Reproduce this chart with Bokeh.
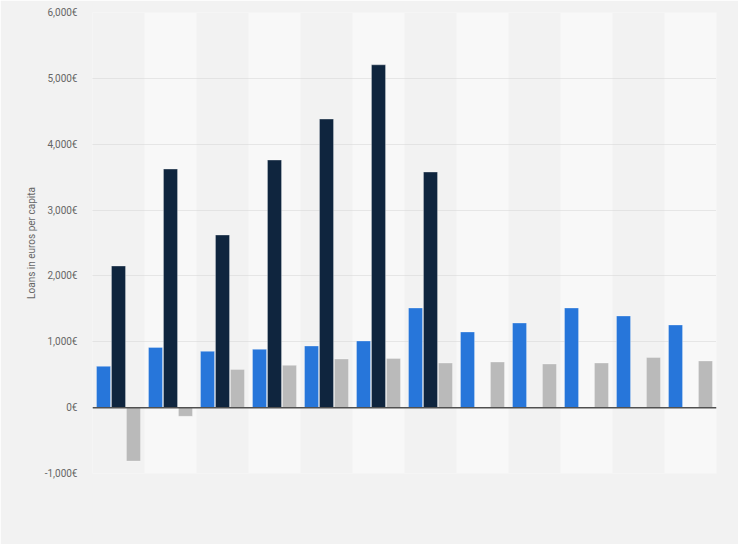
from bokeh.plotting import figure
from bokeh.models import ColumnDataSource, FactorRange, Range1d, FixedTicker, Span
from bokeh.transform import dodge
from bokeh.embed import file_html
from bokeh.resources import INLINE

nan = float("nan")

# ---- data ----
categories = ["2008", "2009", "2010", "2011", "2012", "2013",
              "2014", "2015", "2016", "2017", "2018", "2019"]
series_blue = [627, 915, 855, 885, 936, 1012, 1513, 1149, 1285, 1513, 1392, 1255]
series_navy = [2150, 3622, 2621, 3759, 4381, 5205, 3577, nan, nan, nan, nan, nan]
series_grey = [-812, -132, 581, 642, 739, 748, 678, 693, 663, 678, 763, 709]
y_ticks = [-1000, 0, 1000, 2000, 3000, 4000, 5000, 6000]
y_label = "Loans in euros per capita"

BG = "#f2f2f2"
BAND = "#f8f8f8"
BLUE = "#2776da"
NAVY = "#0f253e"
GREY = "#bababa"
FONT = "Roboto"

band_cats = categories[1::2]

src = ColumnDataSource(dict(cat=categories, blue=series_blue,
                            navy=series_navy, grey=series_grey))
band_src = ColumnDataSource(dict(cat=band_cats,
                                 top=[max(y_ticks)] * len(band_cats),
                                 bottom=[min(y_ticks)] * len(band_cats)))

p = figure(width=738, height=544, x_range=FactorRange(*categories, range_padding=0),
           y_range=Range1d(min(y_ticks), max(y_ticks)),
           output_backend="svg", toolbar_location=None,
           min_border_left=92, min_border_top=12, min_border_right=22,
           min_border_bottom=71)
p.background_fill_color = BG
p.border_fill_color = BG
p.outline_line_color = None

# alternating bands
p.vbar(x="cat", width=1.0, top="top", bottom="bottom", source=band_src,
       fill_color=BAND, line_color=None, level="underlay")

off = 0.288
bw = 0.27
for key, color, dx in (("blue", BLUE, -off), ("navy", NAVY, 0.0), ("grey", GREY, off)):
    p.vbar(x=dodge("cat", dx, range=p.x_range), top=key, bottom=0, width=bw,
           source=src, fill_color=color, line_color="white", line_alpha=0.3,
           line_width=1)

p.add_layout(Span(location=0, dimension="width", line_color="#505050",
                  line_width=1.5))

# axes
p.xaxis.visible = False
p.xgrid.grid_line_color = None

p.yaxis.ticker = FixedTicker(ticks=y_ticks)
p.yaxis.major_label_overrides = {v: f"{v:,}€" for v in y_ticks}
p.yaxis.axis_line_color = None
p.yaxis.major_tick_line_color = None
p.yaxis.minor_tick_line_color = None
p.yaxis.major_tick_out = 0
p.yaxis.major_tick_in = 0
p.yaxis.minor_tick_out = 0
p.yaxis.minor_tick_in = 0
p.yaxis.major_label_standoff = 15
p.yaxis.major_label_text_font = FONT
p.yaxis.major_label_text_font_size = "10px"
p.yaxis.major_label_text_color = "#666666"
p.yaxis.axis_label = y_label
p.yaxis.axis_label_text_font = FONT
p.yaxis.axis_label_text_font_size = "10px"
p.yaxis.axis_label_text_font_style = "normal"
p.yaxis.axis_label_text_color = "#666666"
p.yaxis.axis_label_standoff = 5

p.ygrid.grid_line_color = "#d4d4d4"
p.ygrid.grid_line_dash = "1 1"
p.ygrid.grid_line_width = 1

open("out.html", "w").write(file_html(p, INLINE))
